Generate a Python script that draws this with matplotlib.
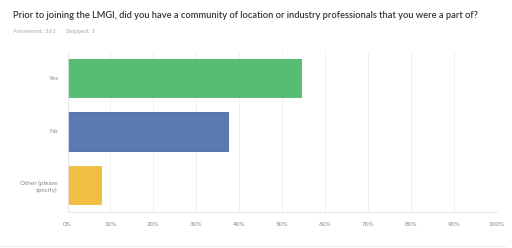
import matplotlib.pyplot as plt
from matplotlib.lines import Line2D

plt.rcParams['font.family'] = ['Lato', 'DejaVu Sans']

categorias = ['Yes', 'No', 'Other (please\nspecify)']
valores = [54.3, 37.3, 7.9]
cores = ['#57bd75', '#5a7ab1', '#f0bf41']
bordas = ['#4fb86c', '#3f68ad', '#efbd3c']
ticks = [0, 10, 20, 30, 40, 50, 60, 70, 80, 90, 100]

fig = plt.figure(figsize=(5.12, 2.48), dpi=100)
ax = fig.add_axes([67.5 / 512, 1 - 212 / 248, 429.5 / 512, 160 / 248])

pos = [2, 1, 0]
ax.barh(pos, valores, height=0.71, color=cores, edgecolor=bordas, linewidth=0.6)

ax.set_xlim(0, 100)
ax.set_ylim(-0.5, 2.48)
ax.set_xticks(ticks)
ax.set_xticklabels([f'{t}%' for t in ticks], fontsize=4.6, color='#888888')
ax.set_yticks(pos)
ax.set_yticklabels(categorias, fontsize=4.6, color='#888888', linespacing=1.3)
ax.tick_params(length=0, pad=7)
ax.tick_params(axis='y', pad=7)
ax.grid(axis='x', color='#eeeeee', linewidth=0.6)
ax.set_axisbelow(True)
for s in ['top', 'right']:
    ax.spines[s].set_visible(False)
ax.spines['left'].set_color('#e4e4e4')
ax.spines['bottom'].set_color('#e4e4e4')
ax.spines['left'].set_linewidth(0.6)
ax.spines['bottom'].set_linewidth(0.6)

fig.text(13 / 512, 1 - 15 / 248, 'Prior to joining the LMGI, did you have a community of location or industry professionals that you were a part of?',
         fontsize=6.65, color='#333333', va='center', ha='left', fontweight='semibold')
fig.text(13 / 512, 1 - 32 / 248, 'Answered: 361      Skipped: 1', fontsize=4.6, color='#aaaaaa', va='center', ha='left')

fig.add_artist(Line2D([0, 505 / 512], [1 - 246 / 248] * 2, color='#eeeeee', linewidth=0.8))

fig.savefig('out.png', dpi=100, facecolor='white')
